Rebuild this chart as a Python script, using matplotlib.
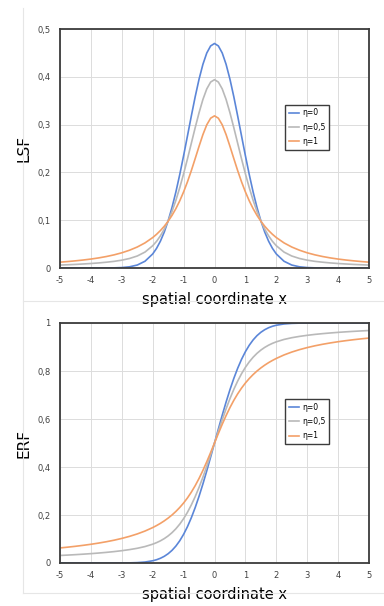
import matplotlib
matplotlib.use("Agg")
import matplotlib.pyplot as plt
from matplotlib.lines import Line2D

# x positions: coarse in the tails, finer around the centre
x = [-5.0, -4.75, -4.5, -4.25, -4.0, -3.75, -3.5, -3.25, -3.0, -2.75, -2.5, -2.25,
     -2.0, -1.875, -1.75, -1.625, -1.5, -1.375, -1.25, -1.125, -1.0, -0.875, -0.75, -0.625,
     -0.5, -0.375, -0.25, -0.125, 0.0, 0.125, 0.25, 0.375, 0.5, 0.625, 0.75, 0.875,
     1.0, 1.125, 1.25, 1.375, 1.5, 1.625, 1.75, 1.875, 2.0,
     2.25, 2.5, 2.75, 3.0, 3.25, 3.5, 3.75, 4.0, 4.25, 4.5, 4.75, 5.0]

# line spread functions (upper panel)
lsf_eta0 = [0.0, 0.0, 0.0, 0.0, 0.0, 0.0, 0.0001, 0.0003, 0.0009, 0.0025, 0.0062, 0.0141,
            0.0294, 0.0411, 0.0562, 0.0753, 0.0987, 0.1267, 0.1590, 0.1954, 0.2349, 0.2763, 0.3180, 0.3583,
            0.3950, 0.4261, 0.4498, 0.4646, 0.4697, 0.4646, 0.4498, 0.4261, 0.3950, 0.3583, 0.3180, 0.2763,
            0.2349, 0.1954, 0.1590, 0.1267, 0.0987, 0.0753, 0.0562, 0.0411, 0.0294,
            0.0141, 0.0062, 0.0025, 0.0009, 0.0003, 0.0001, 0.0, 0.0, 0.0, 0.0, 0.0, 0.0]
lsf_eta05 = [0.0061, 0.0068, 0.0075, 0.0084, 0.0094, 0.0106, 0.0121, 0.0139, 0.0164, 0.0199, 0.0251, 0.0333,
             0.0466, 0.0558, 0.0673, 0.0814, 0.0983, 0.1184, 0.1416, 0.1680, 0.1971, 0.2283, 0.2609, 0.2936,
             0.3248, 0.3526, 0.3747, 0.3890, 0.3940, 0.3890, 0.3747, 0.3526, 0.3248, 0.2936, 0.2609, 0.2283,
             0.1971, 0.1680, 0.1416, 0.1184, 0.0983, 0.0814, 0.0673, 0.0558, 0.0466,
             0.0333, 0.0251, 0.0199, 0.0164, 0.0139, 0.0121, 0.0106, 0.0094, 0.0084, 0.0075, 0.0068, 0.0061]
lsf_eta1 = [0.0122, 0.0135, 0.0150, 0.0167, 0.0187, 0.0211, 0.0240, 0.0275, 0.0318, 0.0372, 0.0439, 0.0525,
            0.0637, 0.0705, 0.0784, 0.0874, 0.0979, 0.1101, 0.1242, 0.1405, 0.1592, 0.1803, 0.2037, 0.2289,
            0.2546, 0.2791, 0.2996, 0.3134, 0.3183, 0.3134, 0.2996, 0.2791, 0.2546, 0.2289, 0.2037, 0.1803,
            0.1592, 0.1405, 0.1242, 0.1101, 0.0979, 0.0874, 0.0784, 0.0705, 0.0637,
            0.0525, 0.0439, 0.0372, 0.0318, 0.0275, 0.0240, 0.0211, 0.0187, 0.0167, 0.0150, 0.0135, 0.0122]

# edge response functions (lower panel)
erf_eta0 = [0.0, 0.0, 0.0, 0.0, 0.0, 0.0, 0.0, 0.0, 0.0002, 0.0006, 0.0016, 0.0040,
            0.0093, 0.0136, 0.0197, 0.0279, 0.0387, 0.0527, 0.0705, 0.0926, 0.1195, 0.1514, 0.1886, 0.2309,
            0.2780, 0.3294, 0.3842, 0.4416, 0.5, 0.5584, 0.6158, 0.6706, 0.7220, 0.7691, 0.8114, 0.8486,
            0.8805, 0.9074, 0.9295, 0.9473, 0.9613, 0.9721, 0.9803, 0.9864, 0.9907,
            0.9960, 0.9984, 0.9994, 0.9998, 1.0, 1.0, 1.0, 1.0, 1.0, 1.0, 1.0, 1.0]
erf_eta05 = [0.0314, 0.0330, 0.0348, 0.0368, 0.0390, 0.0415, 0.0443, 0.0475, 0.0513, 0.0558, 0.0613, 0.0685,
             0.0784, 0.0848, 0.0924, 0.1017, 0.1129, 0.1264, 0.1426, 0.1619, 0.1847, 0.2113, 0.2419, 0.2765,
             0.3152, 0.3576, 0.4031, 0.4510, 0.5, 0.5490, 0.5969, 0.6424, 0.6848, 0.7235, 0.7581, 0.7887,
             0.8153, 0.8381, 0.8574, 0.8736, 0.8871, 0.8983, 0.9076, 0.9152, 0.9216,
             0.9315, 0.9387, 0.9442, 0.9487, 0.9525, 0.9557, 0.9585, 0.9610, 0.9632, 0.9652, 0.9670, 0.9686]
erf_eta1 = [0.0628, 0.0660, 0.0696, 0.0736, 0.0780, 0.0830, 0.0886, 0.0950, 0.1024, 0.1110, 0.1211, 0.1331,
            0.1476, 0.1560, 0.1652, 0.1756, 0.1872, 0.2001, 0.2148, 0.2313, 0.25, 0.2712, 0.2952, 0.3222,
            0.3524, 0.3858, 0.4220, 0.4604, 0.5, 0.5396, 0.5780, 0.6142, 0.6476, 0.6778, 0.7048, 0.7288,
            0.75, 0.7687, 0.7852, 0.7999, 0.8128, 0.8244, 0.8348, 0.8440, 0.8524,
            0.8669, 0.8789, 0.8890, 0.8976, 0.9050, 0.9114, 0.9170, 0.9220, 0.9264, 0.9304, 0.9340, 0.9372]

labels = ["\u03b7=0", "\u03b7=0,5", "\u03b7=1"]
colors = ["#5b86d8", "#b9b9b9", "#f3a068"]

x_ticks = [-5, -4, -3, -2, -1, 0, 1, 2, 3, 4, 5]
lsf_ticks = [0, 0.1, 0.2, 0.3, 0.4, 0.5]
lsf_ticklabels = ["0", "0,1", "0,2", "0,3", "0,4", "0,5"]
erf_ticks = [0, 0.2, 0.4, 0.6, 0.8, 1.0]
erf_ticklabels = ["0", "0,2", "0,4", "0,6", "0,8", "1"]

fig = plt.figure(figsize=(3.84, 6.06), dpi=100)

# faint chart-area borders
border = "#e6e6e6"
fig.add_artist(Line2D([23 / 384, 23 / 384], [1 - 8 / 606, 1 - 593 / 606], color=border, lw=0.8))
fig.add_artist(Line2D([23 / 384, 1.0], [1 - 301 / 606, 1 - 301 / 606], color=border, lw=0.8))
fig.add_artist(Line2D([23 / 384, 1.0], [1 - 593 / 606, 1 - 593 / 606], color=border, lw=0.8))

ax1 = fig.add_axes([60 / 384, 1 - 268 / 606, 309 / 384, 239 / 606])
ax2 = fig.add_axes([60 / 384, 1 - 563 / 606, 309 / 384, 240 / 606])

panels = [
    (ax1, [lsf_eta0, lsf_eta05, lsf_eta1], lsf_ticks, lsf_ticklabels, "LSF", 0.5),
    (ax2, [erf_eta0, erf_eta05, erf_eta1], erf_ticks, erf_ticklabels, "ERF", 1.0),
]

for ax, series, yt, ytl, ylab, ytop in panels:
    for ys, c, lab in zip(series, colors, labels):
        ax.plot(x, ys, color=c, lw=1.2, label=lab)
    ax.set_xlim(-5, 5)
    ax.set_ylim(0, ytop)
    ax.set_xticks(x_ticks)
    ax.set_xticklabels([str(t) for t in x_ticks])
    ax.set_yticks(yt)
    ax.set_yticklabels(ytl)
    ax.tick_params(length=0, labelsize=6, colors="#404040")
    ax.tick_params(axis="x", pad=6)
    ax.tick_params(axis="y", pad=7)
    ax.grid(True, color="#dcdcdc", lw=0.7)
    ax.set_axisbelow(True)
    for sp in ax.spines.values():
        sp.set_color("#3c3c3c")
        sp.set_linewidth(1.3)
    ax.set_ylabel(ylab, fontsize=11, labelpad=4,
                  bbox=dict(facecolor="white", edgecolor="none", pad=2))
    ax.set_xlabel("spatial coordinate x", fontsize=10.5, labelpad=5,
                  bbox=dict(facecolor="white", edgecolor="none", pad=2))
    leg = ax.legend(loc="upper left", bbox_to_anchor=(0.728, 0.684), fontsize=5.5,
                    handlelength=1.4, handletextpad=0.3, labelspacing=0.7,
                    borderpad=0.5, borderaxespad=0, fancybox=False, framealpha=1)
    leg.get_frame().set_edgecolor("#3c3c3c")
    leg.get_frame().set_linewidth(1.0)

fig.savefig("out.png", dpi=100)
